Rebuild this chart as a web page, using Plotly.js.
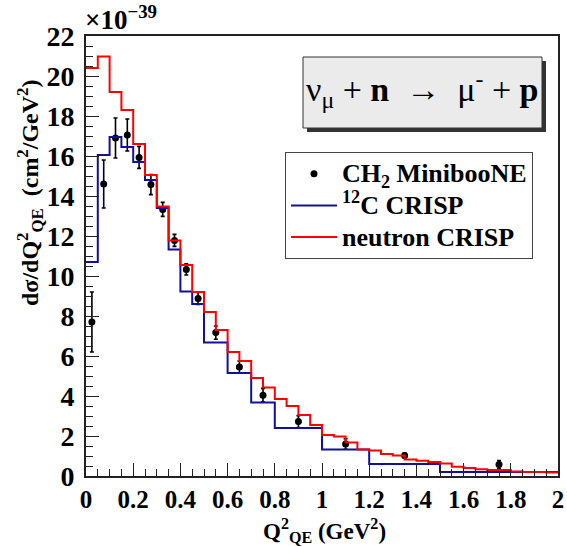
<!DOCTYPE html>
<html>
<head>
<meta charset="utf-8">
<script src="https://cdn.plot.ly/plotly-3.0.1.min.js"></script>
<style>
  html, body { margin: 0; padding: 0; background: #fff; }
  #chart { width: 567px; height: 547px; }
</style>
</head>
<body>
<div id="chart"></div>
<script>
// Q^2 bin edges of the 12C CRISP histogram (MiniBooNE binning), GeV^2
const carbonEdges = [0, 0.05, 0.1, 0.15, 0.2, 0.25, 0.3, 0.35, 0.4, 0.45, 0.5,
                     0.6, 0.7, 0.8, 1.0, 1.2, 1.5, 2.0];
// 12C CRISP dsigma/dQ^2 per bin, units of 1e-39 cm^2/GeV^2
const carbonValues = [10.7, 16.05, 16.95, 16.45, 15.7, 14.8, 13.4, 11.33, 9.22, 8.6,
                      6.67, 5.15, 3.67, 2.4, 1.32, 0.6, 0.2];

// neutron CRISP histogram, 0.05 GeV^2 bins from 0 to 2
const neutronEdges = [0, 0.05, 0.1, 0.15, 0.2, 0.25, 0.3, 0.35, 0.4, 0.45, 0.5,
                      0.55, 0.6, 0.65, 0.7, 0.75, 0.8, 0.85, 0.9, 0.95, 1.0,
                      1.05, 1.1, 1.15, 1.2, 1.25, 1.3, 1.35, 1.4, 1.45, 1.5,
                      1.55, 1.6, 1.65, 1.7, 1.75, 1.8, 1.85, 1.9, 1.95, 2.0];
const neutronValues = [20.4, 20.97, 19.2, 18.3, 16.6, 15.05, 13.47, 11.77, 10.55, 9.2,
                       8.2, 7.3, 6.2, 5.75, 4.9, 4.43, 3.85, 3.5, 3.05, 2.55,
                       2.05, 1.97, 1.67, 1.32, 1.27, 1.1, 1.02, 0.83, 0.76, 0.7,
                       0.62, 0.46, 0.4, 0.34, 0.3, 0.3, 0.22, 0.2, 0.2, 0.18];

// CH2 MiniBooNE measurement: bin centres, values and uncertainties
const dataQ2 = [0.025, 0.075, 0.125, 0.175, 0.225, 0.275, 0.325, 0.375, 0.425, 0.475,
                0.55, 0.65, 0.75, 0.9, 1.1, 1.35, 1.75];
const dataXsec = [7.7, 14.6, 16.9, 17.05, 15.93, 14.57, 13.33, 11.78, 10.33, 8.88,
                  7.17, 5.45, 4.04, 2.72, 1.6, 1.02, 0.57];
const dataErr = [1.5, 1.2, 1.0, 0.8, 0.55, 0.5, 0.35, 0.3, 0.28, 0.3,
                 0.33, 0.3, 0.34, 0.3, 0.26, 0.13, 0.2];

const xTickVals = [0, 0.2, 0.4, 0.6, 0.8, 1, 1.2, 1.4, 1.6, 1.8, 2];
const xTickText = ['0', '0.2', '0.4', '0.6', '0.8', '1', '1.2', '1.4', '1.6', '1.8', '2'];
const yTickVals = [0, 2, 4, 6, 8, 10, 12, 14, 16, 18, 20, 22];

// step line through bin edges: last content repeated to close the final bin
function stepY(values) { return values.concat([values[values.length - 1]]); }

const SERIF = 'Liberation Serif, Times New Roman, serif';
// legend rows keep a compact pitch while the text itself is drawn larger
const big = s => '<span style="font-size:26px">' + s + '</span>';

const traces = [
  {
    type: 'scatter', mode: 'markers', name: big('CH<sub>2</sub> MinibooNE'),
    x: dataQ2, y: dataXsec,
    error_y: { type: 'data', array: dataErr, visible: true, color: '#000', thickness: 1.6, width: 2 },
    marker: { color: '#000', size: 7, symbol: 'circle' }
  },
  {
    type: 'scatter', mode: 'lines', name: big('<sup>12</sup>C CRISP'),
    x: carbonEdges, y: stepY(carbonValues),
    line: { shape: 'hv', color: '#10109c', width: 2 }
  },
  {
    type: 'scatter', mode: 'lines', name: big('neutron CRISP'),
    x: neutronEdges, y: stepY(neutronValues),
    line: { shape: 'hv', color: '#ff0000', width: 2 }
  }
];

// plot area in pixels: x 86..558, y 36..476
const L = 86, R = 558, T = 36, B = 476;
const px = v => (v - L) / (R - L);
const py = v => (B - v) / (B - T);

const layout = {
  width: 567, height: 547,
  margin: { l: L, r: 567 - R, t: T, b: 547 - B },
  paper_bgcolor: '#fff', plot_bgcolor: '#fff',
  showlegend: true,
  font: { family: SERIF, color: '#000' },
  xaxis: {
    range: [0, 2], tickmode: 'array', tickvals: xTickVals, ticktext: xTickText,
    ticks: 'inside', ticklen: 13, tickwidth: 1, tickcolor: '#222',
    minor: { dtick: 0.05, ticks: 'inside', ticklen: 7, tickwidth: 1, tickcolor: '#222' },
    showgrid: false, zeroline: false,
    showline: true, linecolor: '#222', linewidth: 2, mirror: true,
    tickfont: { family: SERIF, size: 25, weight: 'bold', color: '#000' }
  },
  yaxis: {
    range: [0, 22], tickmode: 'array', tickvals: yTickVals,
    ticks: 'inside', ticklen: 13, tickwidth: 1, tickcolor: '#222',
    minor: { dtick: 0.5, ticks: 'inside', ticklen: 7, tickwidth: 1, tickcolor: '#222' },
    showgrid: false, zeroline: false,
    showline: true, linecolor: '#222', linewidth: 2, mirror: true,
    ticklabelstandoff: 4,
    tickfont: { family: SERIF, size: 28, weight: 'bold', color: '#000' }
  },
  legend: {
    x: px(285), y: py(152), xanchor: 'left', yanchor: 'top',
    bgcolor: '#fff', bordercolor: '#444', borderwidth: 1,
    font: { family: SERIF, size: 22, weight: 'bold', color: '#000' },
    itemwidth: 46, tracegroupgap: 0
  },
  shapes: [
    // reaction label box with its drop shadow
    { type: 'rect', xref: 'paper', yref: 'paper', layer: 'above',
      x0: px(307), x1: px(546), y0: py(132), y1: py(61),
      fillcolor: '#333', line: { width: 0 } },
    { type: 'rect', xref: 'paper', yref: 'paper', layer: 'above',
      x0: px(303), x1: px(542), y0: py(128), y1: py(57),
      fillcolor: '#ebebeb', line: { color: '#333', width: 1 } }
  ],
  annotations: [
    { xref: 'paper', yref: 'paper', x: px(422), y: py(90), xanchor: 'center', yanchor: 'middle',
      showarrow: false, text: 'ν<sub>μ</sub> + <b>n</b>  →  μ<sup>-</sup> + <b>p</b>',
      font: { family: SERIF, size: 34, color: '#000' } },
    { xref: 'paper', yref: 'paper', x: px(30), y: py(193), xanchor: 'center', yanchor: 'middle',
      textangle: -90, showarrow: false,
      text: 'dσ/dQ<sup>2</sup><sub>QE</sub>  (cm<sup>2</sup>/GeV<sup>2</sup>)',
      font: { family: SERIF, size: 24, weight: 'bold', color: '#000' } },
    { xref: 'paper', yref: 'paper', x: px(324), y: py(530), xanchor: 'center', yanchor: 'middle',
      showarrow: false,
      text: 'Q<sup>2</sup><sub>QE</sub> (GeV<sup>2</sup>)',
      font: { family: SERIF, size: 23, weight: 'bold', color: '#000' } },
    { xref: 'paper', yref: 'paper', x: px(83), y: py(18), xanchor: 'left', yanchor: 'middle',
      showarrow: false, text: '×10<sup>−39</sup>',
      font: { family: SERIF, size: 27, weight: 'bold', color: '#000' } }
  ]
};

Plotly.newPlot('chart', traces, layout, { displayModeBar: false, staticPlot: true });
</script>
</body>
</html>
